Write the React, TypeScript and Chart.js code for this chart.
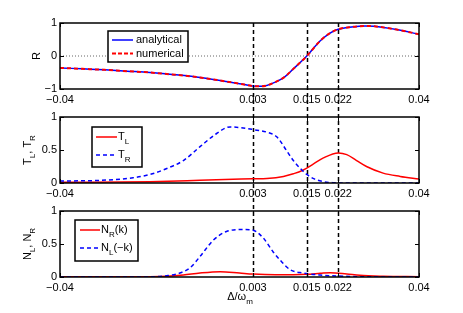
import React, { useEffect, useRef } from 'react';
import { Chart, registerables } from 'chart.js';

Chart.register(...registerables);

const FONT = '"Liberation Sans", Arial, Helvetica, sans-serif';

// ---- shared axis data ----
const xTickValues = [-0.04, 0.003, 0.015, 0.022, 0.04];
const markerLines = [0.003, 0.015, 0.022];

// ---- panel 1: R ----
const rX = [-0.04, -0.035, -0.03, -0.025, -0.02, -0.015, -0.01, -0.005, 0, 0.003, 0.005, 0.008, 0.01, 0.012, 0.015, 0.018, 0.02, 0.022, 0.025, 0.028, 0.03, 0.035, 0.04];
const rAnalytical = [-0.36, -0.39, -0.42, -0.46, -0.5, -0.56, -0.63, -0.73, -0.84, -0.91, -0.92, -0.79, -0.64, -0.39, 0, 0.46, 0.68, 0.81, 0.88, 0.91, 0.9, 0.8, 0.66];
const rNumerical = [-0.36, -0.39, -0.42, -0.46, -0.5, -0.56, -0.63, -0.73, -0.84, -0.91, -0.92, -0.79, -0.64, -0.39, 0, 0.46, 0.68, 0.81, 0.88, 0.91, 0.9, 0.8, 0.66];
const zeroX = [-0.04, 0.04];
const zeroY = [0, 0];
const rYTicks = [-1, 0, 1];

// ---- panel 2: T_L, T_R ----
const tLX = [-0.04, -0.02, -0.0088, -0.0014, 0.003, 0.0061, 0.0098, 0.012, 0.014, 0.0165, 0.0187, 0.022, 0.0239, 0.0261, 0.0283, 0.032, 0.0358, 0.04];
const tLY = [0.01, 0.02, 0.04, 0.055, 0.065, 0.07, 0.1, 0.14, 0.19, 0.29, 0.38, 0.455, 0.43, 0.34, 0.25, 0.15, 0.1, 0.06];
const tRX = [-0.04, -0.0311, -0.0237, -0.0199, -0.0162, -0.0125, -0.0088, -0.0051, -0.0021, 0.0001, 0.003, 0.0061, 0.0083, 0.0105, 0.012, 0.014, 0.015, 0.0165, 0.0187, 0.0209, 0.025, 0.04];
const tRY = [0.03, 0.04, 0.08, 0.13, 0.22, 0.34, 0.55, 0.75, 0.85, 0.84, 0.81, 0.77, 0.7, 0.49, 0.34, 0.19, 0.13, 0.066, 0.02, 0.005, 0, 0];
const unitYTicks = [0, 0.5, 1];

// ---- panel 3: N_R(k), N_L(-k) ----
const nRX = [-0.04, -0.02, -0.0162, -0.0125, -0.0088, -0.0043, 0, 0.003, 0.008, 0.012, 0.015, 0.018, 0.0202, 0.0239, 0.0268, 0.032, 0.04];
const nRY = [0.003, 0.005, 0.01, 0.03, 0.06, 0.08, 0.06, 0.045, 0.035, 0.035, 0.04, 0.055, 0.065, 0.045, 0.025, 0.012, 0.005];
const nLX = [-0.04, -0.02, -0.0162, -0.0133, -0.011, -0.0088, -0.0058, -0.0029, 0.0008, 0.003, 0.0053, 0.0075, 0.009, 0.0113, 0.0142, 0.018, 0.0217, 0.0283, 0.04];
const nLY = [0, 0.002, 0.02, 0.06, 0.14, 0.31, 0.56, 0.69, 0.72, 0.71, 0.59, 0.38, 0.26, 0.11, 0.06, 0.03, 0.015, 0.003, 0];

type Seg = { t: string; sub?: boolean };

const pts = (xs: number[], ys: number[]) => xs.map((x, i) => ({ x, y: ys[i] }));

function drawRich(ctx: CanvasRenderingContext2D, segs: Seg[], x: number, y: number, size: number, align: 'left' | 'center') {
  const subSize = Math.round(size * 0.75);
  const widths = segs.map((s) => {
    ctx.font = `${s.sub ? subSize : size}px ${FONT}`;
    return ctx.measureText(s.t).width;
  });
  const total = widths.reduce((a, b) => a + b, 0);
  let cx = align === 'center' ? x - total / 2 : x;
  ctx.textAlign = 'left';
  ctx.textBaseline = 'middle';
  ctx.fillStyle = '#000';
  segs.forEach((s, i) => {
    ctx.font = `${s.sub ? subSize : size}px ${FONT}`;
    ctx.fillText(s.t, cx, y + (s.sub ? size * 0.42 : 0));
    cx += widths[i];
  });
}

type LegendItem = { color: string; dash: number[]; width: number; label: Seg[]; y: number };
type Panel = {
  id: string;
  pageTop: number;
  height: number;
  padTop: number;
  xHeight: number;
  yMin: number;
  yMax: number;
  yTicks: number[];
  yTickLabels: (v: number) => string;
  datasets: any[];
  linesFromArea: boolean;
  linesToArea: boolean;
  legend: { x: number; y: number; w: number; h: number; s0: number; s1: number; tx: number; items: LegendItem[] };
  yTitle: { segs: Seg[]; x: number };
  xTitle?: { segs: Seg[]; x: number; y: number };
};

const fmtX = (v: number) => (v < 0 ? '\u2212' + String(Math.abs(v)) : String(v));
const fmtY = (v: number) => (v < 0 ? '\u2212' + String(Math.abs(v)) : String(v));

// Note: dataset "order" — lower order is drawn on top.
const panels: Panel[] = [
  {
    id: 'r',
    pageTop: 0,
    height: 106,
    padTop: 23,
    xHeight: 17,
    yMin: -1,
    yMax: 1,
    yTicks: rYTicks,
    yTickLabels: fmtY,
    linesFromArea: true,
    linesToArea: false,
    datasets: [
      { data: pts(zeroX, zeroY), borderColor: '#666', borderWidth: 1, borderDash: [1, 2], tension: 0, order: 3 },
      { data: pts(rX, rAnalytical), borderColor: '#0000ff', borderWidth: 1.5, cubicInterpolationMode: 'monotone', order: 2 },
      { data: pts(rX, rNumerical), borderColor: '#ff0000', borderWidth: 2, borderDash: [4, 3], cubicInterpolationMode: 'monotone', order: 1 },
    ],
    legend: {
      x: 108, y: 31, w: 80, h: 31, s0: 112, s1: 133, tx: 136,
      items: [
        { color: '#0000ff', dash: [], width: 1.5, label: [{ t: 'analytical' }], y: 40 },
        { color: '#ff0000', dash: [4, 2], width: 2, label: [{ t: 'numerical' }], y: 53.5 },
      ],
    },
    yTitle: { segs: [{ t: 'R' }], x: 37 },
  },
  {
    id: 't',
    pageTop: 106,
    height: 94,
    padTop: 11,
    xHeight: 17,
    yMin: 0,
    yMax: 1,
    yTicks: unitYTicks,
    yTickLabels: fmtY,
    linesFromArea: false,
    linesToArea: false,
    datasets: [
      { data: pts(tLX, tLY), borderColor: '#ff0000', borderWidth: 1.5, cubicInterpolationMode: 'monotone', order: 2 },
      { data: pts(tRX, tRY), borderColor: '#0000ff', borderWidth: 1.5, borderDash: [4, 3], cubicInterpolationMode: 'monotone', order: 1 },
    ],
    legend: {
      x: 92, y: 127, w: 50, h: 40, s0: 96, s1: 117, tx: 118,
      items: [
        { color: '#ff0000', dash: [], width: 1.5, label: [{ t: 'T' }, { t: 'L', sub: true }], y: 137 },
        { color: '#0000ff', dash: [4, 3], width: 1.5, label: [{ t: 'T' }, { t: 'R', sub: true }], y: 155 },
      ],
    },
    yTitle: { segs: [{ t: 'T' }, { t: 'L', sub: true }, { t: ', T' }, { t: 'R', sub: true }], x: 28 },
  },
  {
    id: 'n',
    pageTop: 200,
    height: 113,
    padTop: 11,
    xHeight: 36,
    yMin: 0,
    yMax: 1,
    yTicks: unitYTicks,
    yTickLabels: fmtY,
    linesFromArea: false,
    linesToArea: true,
    datasets: [
      { data: pts(nRX, nRY), borderColor: '#ff0000', borderWidth: 1.5, cubicInterpolationMode: 'monotone', order: 2 },
      { data: pts(nLX, nLY), borderColor: '#0000ff', borderWidth: 1.5, borderDash: [4, 3], cubicInterpolationMode: 'monotone', order: 1 },
    ],
    legend: {
      x: 75, y: 220, w: 63, h: 41, s0: 80, s1: 100, tx: 101,
      items: [
        { color: '#ff0000', dash: [], width: 1.5, label: [{ t: 'N' }, { t: 'R', sub: true }, { t: '(k)' }], y: 230 },
        { color: '#0000ff', dash: [4, 3], width: 1.5, label: [{ t: 'N' }, { t: 'L', sub: true }, { t: '(\u2212k)' }], y: 248 },
      ],
    },
    yTitle: { segs: [{ t: 'N' }, { t: 'L', sub: true }, { t: ', N' }, { t: 'R', sub: true }], x: 28 },
    xTitle: { segs: [{ t: '\u0394/\u03c9' }, { t: 'm', sub: true }], x: 240, y: 297 },
  },
];

function makePlugin(p: Panel) {
  return {
    id: 'deco_' + p.id,
    beforeDraw(chart: any) {
      const { ctx, chartArea, scales } = chart;
      const xs = scales.x;
      ctx.save();
      ctx.strokeStyle = '#000';
      ctx.lineWidth = 1.5;
      ctx.setLineDash([4, 3]);
      const y0 = p.linesFromArea ? chartArea.top : 0;
      const y1 = p.linesToArea ? chartArea.bottom : chart.height;
      ctx.lineDashOffset = p.pageTop + y0 - 23;
      markerLines.forEach((v) => {
        const px = Math.round(xs.getPixelForValue(v)) + 0.5;
        ctx.beginPath();
        ctx.moveTo(px, y0);
        ctx.lineTo(px, y1);
        ctx.stroke();
      });
      ctx.restore();
    },
    afterDraw(chart: any) {
      const { ctx, chartArea, scales } = chart;
      const { left, right, top, bottom } = chartArea;
      ctx.save();
      // inward ticks
      ctx.strokeStyle = '#000';
      ctx.lineWidth = 1;
      ctx.setLineDash([]);
      const tl = 4;
      xTickValues.forEach((v) => {
        const px = Math.round(scales.x.getPixelForValue(v)) + 0.5;
        ctx.beginPath();
        ctx.moveTo(px, bottom);
        ctx.lineTo(px, bottom - tl);
        ctx.moveTo(px, top);
        ctx.lineTo(px, top + tl);
        ctx.stroke();
      });
      p.yTicks.forEach((v) => {
        const py = Math.round(scales.y.getPixelForValue(v)) + 0.5;
        ctx.beginPath();
        ctx.moveTo(left, py);
        ctx.lineTo(left + tl, py);
        ctx.moveTo(right, py);
        ctx.lineTo(right - tl, py);
        ctx.stroke();
      });
      // box
      ctx.lineWidth = 1.5;
      ctx.strokeRect(left, top, right - left, bottom - top);

      // legend
      const L = p.legend;
      const ly = L.y - p.pageTop;
      ctx.fillStyle = '#fff';
      ctx.fillRect(L.x, ly, L.w, L.h);
      ctx.lineWidth = 1.5;
      ctx.strokeStyle = '#000';
      ctx.strokeRect(L.x, ly, L.w, L.h);
      L.items.forEach((it) => {
        const iy = it.y - p.pageTop;
        ctx.save();
        ctx.strokeStyle = it.color;
        ctx.lineWidth = it.width;
        ctx.setLineDash(it.dash);
        ctx.beginPath();
        ctx.moveTo(L.s0, iy);
        ctx.lineTo(L.s1, iy);
        ctx.stroke();
        ctx.restore();
        drawRich(ctx, it.label, L.tx, iy, 11, 'left');
      });

      // y title
      ctx.save();
      ctx.translate(p.yTitle.x, (top + bottom) / 2);
      ctx.rotate(-Math.PI / 2);
      drawRich(ctx, p.yTitle.segs, 0, 0, 11, 'center');
      ctx.restore();

      // x title
      if (p.xTitle) {
        drawRich(ctx, p.xTitle.segs, p.xTitle.x, p.xTitle.y - p.pageTop, 11, 'center');
      }
      ctx.restore();
    },
  };
}

function PanelChart({ p }: { p: Panel }) {
  const ref = useRef<HTMLCanvasElement | null>(null);
  useEffect(() => {
    if (!ref.current) return;
    const chart = new Chart(ref.current, {
      type: 'line',
      data: {
        datasets: p.datasets.map((d) => ({ ...d, pointRadius: 0, fill: false })),
      },
      options: {
        animation: false,
        responsive: false,
        maintainAspectRatio: false,
        layout: { padding: { top: p.padTop, right: 44, left: 0, bottom: 0 } },
        plugins: { legend: { display: false }, tooltip: { enabled: false }, title: { display: false } },
        scales: {
          x: {
            type: 'linear',
            min: -0.04,
            max: 0.04,
            grid: { display: false, drawTicks: false },
            border: { display: false },
            afterBuildTicks: (s: any) => {
              s.ticks = xTickValues.map((v) => ({ value: v }));
            },
            afterFit: (s: any) => {
              s.height = p.xHeight;
            },
            ticks: {
              autoSkip: false,
              maxRotation: 0,
              padding: 4,
              color: '#000',
              font: { family: FONT, size: 11 },
              callback: (v: any) => fmtX(Number(v)),
            },
          },
          y: {
            type: 'linear',
            min: p.yMin,
            max: p.yMax,
            grid: { display: false, drawTicks: false },
            border: { display: false },
            afterBuildTicks: (s: any) => {
              s.ticks = p.yTicks.map((v) => ({ value: v }));
            },
            afterFit: (s: any) => {
              s.width = 60;
            },
            ticks: {
              autoSkip: false,
              padding: 3,
              color: '#000',
              font: { family: FONT, size: 11 },
              callback: (v: any) => p.yTickLabels(Number(v)),
            },
          },
        },
      } as any,
      plugins: [makePlugin(p)],
    });
    return () => chart.destroy();
  }, [p]);
  return (
    <canvas
      ref={ref}
      width={463}
      height={p.height}
      style={{ position: 'absolute', left: 0, top: p.pageTop, width: 463, height: p.height, display: 'block' }}
    />
  );
}

export default function App() {
  return (
    <div style={{ position: 'absolute', left: 0, top: 0, width: 463, height: 313, background: '#fff' }}>
      {panels.map((p) => (
        <PanelChart key={p.id} p={p} />
      ))}
    </div>
  );
}
